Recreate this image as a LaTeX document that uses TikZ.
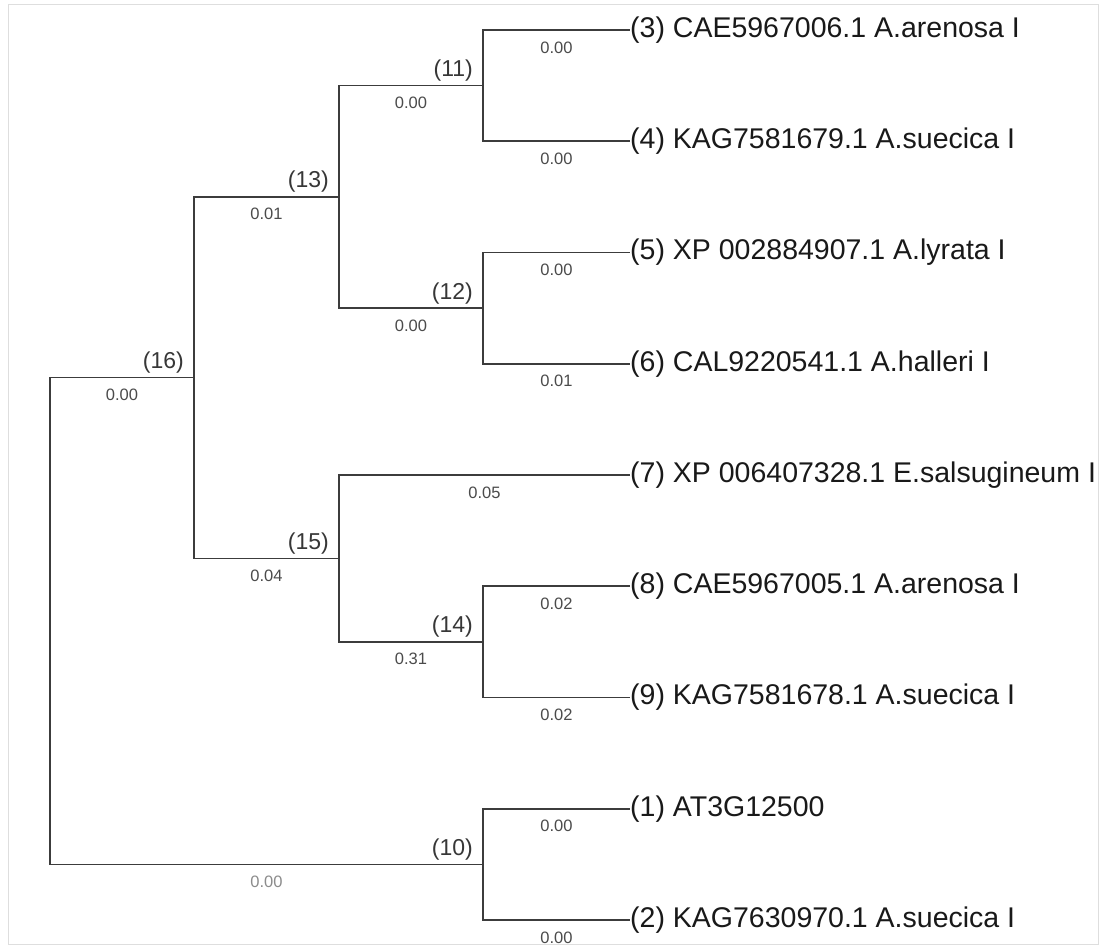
\documentclass[tikz,border=0pt]{standalone}
\usepackage{fontspec}
\setmainfont{Liberation Sans}
\definecolor{linec}{RGB}{60,60,60}
\definecolor{leafc}{RGB}{25,25,25}
\definecolor{nodec}{RGB}{55,55,55}
\definecolor{lenc}{RGB}{75,75,75}
\definecolor{lengray}{RGB}{140,140,140}
\definecolor{framec}{RGB}{222,222,222}
\begin{document}
\begin{tikzpicture}[x=1pt,y=-1pt,
  branch/.style={draw=linec, line width=1.6pt},
  leaf/.style={anchor=west, inner sep=0pt, text=leafc, font=\fontsize{28.5}{34}\selectfont},
  nlab/.style={anchor=base east, inner sep=0pt, text=nodec, font=\fontsize{23}{28}\selectfont},
  blen/.style={anchor=base, inner sep=0pt, yshift=-23pt, text=lenc, font=\fontsize{16.5}{20}\selectfont, pos=0.75}]
\useasboundingbox (0,0) rectangle (1101,946);
\fill[white] (0,0) rectangle (1101,946);
\draw[framec, line width=1pt] (8,4) rectangle (1098,944.5);

% leaves
\node[leaf] (L3) at (630,30)     {(3) CAE5967006.1 A.arenosa I};
\node[leaf] (L4) at (630,141.25) {(4) KAG7581679.1 A.suecica I};
\node[leaf] (L5) at (630,252.5)  {(5) XP 002884907.1 A.lyrata I};
\node[leaf] (L6) at (630,363.75) {(6) CAL9220541.1 A.halleri I};
\node[leaf] (L7) at (630,475)    {(7) XP 006407328.1 E.salsugineum I};
\node[leaf] (L8) at (630,586.25) {(8) CAE5967005.1 A.arenosa I};
\node[leaf] (L9) at (630,697.5)  {(9) KAG7581678.1 A.suecica I};
\node[leaf] (L1) at (630,808.75) {(1) AT3G12500};
\node[leaf] (L2) at (630,920)    {(2) KAG7630970.1 A.suecica I};

% internal nodes
\coordinate (N11) at (483,85.6);
\coordinate (N12) at (483,308.1);
\coordinate (N13) at (339,196.9);
\coordinate (N14) at (483,641.9);
\coordinate (N15) at (339,558.4);
\coordinate (N16) at (194,377.6);
\coordinate (N10) at (483,864.4);
\coordinate (R) at (50,621);

% node labels
\node[nlab] (t11) at ([xshift=-10pt,yshift=9pt]N11) {(11)};
\node[nlab] (t12) at ([xshift=-10pt,yshift=9pt]N12) {(12)};
\node[nlab] (t13) at ([xshift=-10pt,yshift=9pt]N13) {(13)};
\node[nlab] (t14) at ([xshift=-10pt,yshift=9pt]N14) {(14)};
\node[nlab] (t15) at ([xshift=-10pt,yshift=9pt]N15) {(15)};
\node[nlab] (t16) at ([xshift=-10pt,yshift=9pt]N16) {(16)};
\node[nlab] (t10) at ([xshift=-10pt,yshift=9pt]N10) {(10)};

% branches
\draw[branch] (N11) |- node[blen]{0.00} (L3.west);
\draw[branch] (N11) |- node[blen]{0.00} (L4.west);
\draw[branch] (N12) |- node[blen]{0.00} (L5.west);
\draw[branch] (N12) |- node[blen]{0.01} (L6.west);
\draw[branch] (N13) |- node[blen]{0.00} (N11);
\draw[branch] (N13) |- node[blen]{0.00} (N12);
\draw[branch] (N14) |- node[blen]{0.02} (L8.west);
\draw[branch] (N14) |- node[blen]{0.02} (L9.west);
\draw[branch] (N15) |- node[blen]{0.05} (L7.west);
\draw[branch] (N15) |- node[blen]{0.31} (N14);
\draw[branch] (N16) |- node[blen]{0.01} (N13);
\draw[branch] (N16) |- node[blen]{0.04} (N15);
\draw[branch] (N10) |- node[blen]{0.00} (L1.west);
\draw[branch] (N10) |- node[blen]{0.00} (L2.west);
\draw[branch] (R) |- node[blen]{0.00} (N16);
\draw[branch] (R) |- node[blen,text=lengray]{0.00} (N10);
\end{tikzpicture}
\end{document}
